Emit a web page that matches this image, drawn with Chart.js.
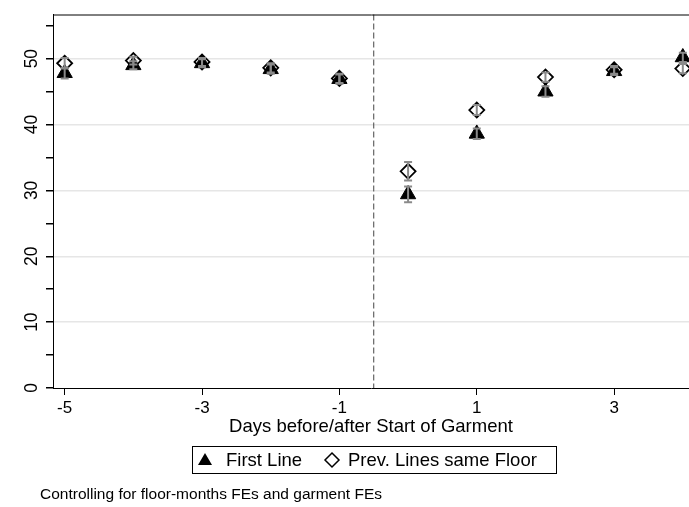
<!DOCTYPE html>
<html><head><meta charset="utf-8">
<script src="https://cdn.jsdelivr.net/npm/chart.js@4/dist/chart.umd.min.js"></script>
<style>html,body{margin:0;padding:0;background:#fff}#wrap{width:689px;height:507px;position:relative}</style>
</head><body><div id="wrap"><canvas id="c" width="689" height="507"></canvas></div>
<script>
// ---- data ----
const days = [-5, -4, -3, -2, -1, 0, 1, 2, 3, 4];
const firstLine = [47.8, 49.0, 49.3, 48.4, 46.9, 29.4, 38.6, 45.0, 48.1, 50.2];
const firstLineErr = [0.8, 0.6, 0.6, 0.7, 0.7, 1.2, 0.8, 0.8, 0.6, 0.7];
const prevLines = [49.3, 49.7, 49.5, 48.6, 47.0, 32.9, 42.2, 47.2, 48.3, 48.5];
const prevLinesErr = [0.8, 0.6, 0.6, 0.7, 0.7, 1.4, 0.75, 0.7, 0.6, 0.7];
const xTicks = [-5, -3, -1, 1, 3];
const yTicks = [0, 5, 10, 15, 20, 25, 30, 35, 40, 45, 50, 55];
const yLabelStep = 10;
const xRange = [-5.17, 4.09];
const yRange = [0, 56.7];
const cutoff = -0.5;
const seriesNames = ['First Line', 'Prev. Lines same Floor'];
const xTitle = 'Days before/after Start of Garment';
const note = 'Controlling for floor-months FEs and garment FEs';

const FONT = "'Liberation Sans', Arial, sans-serif";

const toPts = (ys) => days.map((d, i) => ({x: d, y: ys[i]}));

const frame = {
  id: 'frame',
  beforeDatasetsDraw(chart) {
    const {ctx, chartArea: a, scales: {x}} = chart;
    ctx.save();
    // dashed cutoff line
    const px = x.getPixelForValue(cutoff);
    ctx.strokeStyle = '#444';
    ctx.lineWidth = 1;
    ctx.setLineDash([6, 3]);
    ctx.beginPath(); ctx.moveTo(px, a.top); ctx.lineTo(px, a.bottom); ctx.stroke();
    ctx.setLineDash([]);
    // top border of plot region
    ctx.strokeStyle = '#000';
    ctx.beginPath();
    ctx.moveTo(a.left, a.top + 0.5); ctx.lineTo(a.right + 2, a.top + 0.5);
    ctx.stroke();
    ctx.restore();
  },
  afterDatasetsDraw(chart) {
    const {ctx, scales: {x, y}} = chart;
    const errs = [firstLineErr, prevLinesErr];
    ctx.save();
    ctx.strokeStyle = '#8a8a8a';
    ctx.lineWidth = 2;
    chart.data.datasets.forEach((ds, k) => {
      ds.data.forEach((p, i) => {
        const px = x.getPixelForValue(p.x);
        const lo = y.getPixelForValue(p.y - errs[k][i]);
        const hi = y.getPixelForValue(p.y + errs[k][i]);
        ctx.beginPath();
        ctx.moveTo(px, lo); ctx.lineTo(px, hi);
        ctx.moveTo(px - 4, lo); ctx.lineTo(px + 4, lo);
        ctx.moveTo(px - 4, hi); ctx.lineTo(px + 4, hi);
        ctx.stroke();
      });
    });
    ctx.restore();
  },
  afterDraw(chart) {
    const {ctx} = chart;
    ctx.save();
    // legend box
    ctx.strokeStyle = '#000';
    ctx.lineWidth = 1;
    ctx.strokeRect(192.5, 446.5, 364, 27);
    const cy = 460;
    // triangle marker
    ctx.fillStyle = '#000';
    ctx.beginPath();
    ctx.moveTo(205, cy - 7); ctx.lineTo(212, cy + 5); ctx.lineTo(198, cy + 5); ctx.closePath();
    ctx.fill();
    // diamond marker
    ctx.lineWidth = 1.5;
    ctx.beginPath();
    ctx.moveTo(332, cy - 7); ctx.lineTo(339, cy); ctx.lineTo(332, cy + 7); ctx.lineTo(325, cy); ctx.closePath();
    ctx.stroke();
    ctx.font = "18.5px " + FONT;
    ctx.textBaseline = 'middle';
    ctx.textAlign = 'left';
    ctx.fillText(seriesNames[0], 226, cy + 1);
    ctx.fillText(seriesNames[1], 348, cy + 1);
    ctx.font = "15.5px " + FONT;
    ctx.fillText(note, 40, 495);
    ctx.restore();
  }
};

new Chart(document.getElementById('c'), {
  type: 'scatter',
  data: {
    datasets: [
      {label: seriesNames[0], data: toPts(firstLine), pointStyle: 'triangle', pointRadius: 8.8,
       backgroundColor: '#000', borderColor: '#000', borderWidth: 1},
      {label: seriesNames[1], data: toPts(prevLines), pointStyle: 'rectRot', pointRadius: 7.5,
       backgroundColor: 'rgba(0,0,0,0)', borderColor: '#000', borderWidth: 1.8}
    ]
  },
  options: {
    responsive: false, animation: false, devicePixelRatio: 1,
    layout: {autoPadding: false, padding: {top: 14, right: 0, left: 0, bottom: 0}},
    plugins: {legend: {display: false}, tooltip: {enabled: false}},
    clip: false,
    scales: {
      x: {
        type: 'linear', min: xRange[0], max: xRange[1],
        afterBuildTicks: (s) => { s.ticks = xTicks.map(v => ({value: v})); },
        afterFit: (s) => { s.height = 119; },
        grid: {drawOnChartArea: false, tickLength: 7, tickColor: '#000', color: '#000'},
        border: {color: '#000', width: 1},
        ticks: {color: '#000', font: {size: 17, family: FONT}, padding: 3, maxRotation: 0},
        title: {display: true, text: xTitle, color: '#000', font: {size: 18.5, family: FONT},
                padding: {top: 0, bottom: 69}}
      },
      y: {
        type: 'linear', min: yRange[0], max: yRange[1],
        afterBuildTicks: (s) => { s.ticks = yTicks.map(v => ({value: v})); },
        afterFit: (s) => { s.width = 53; },
        grid: {
          tickLength: 7, tickColor: '#000',
          color: (c) => (c.tick && c.tick.value % yLabelStep === 0 && c.tick.value > 0) ? '#e6e6e6' : 'rgba(0,0,0,0)',
          lineWidth: 1.5
        },
        border: {color: '#000', width: 1},
        ticks: {
          color: '#000', font: {size: 17.5, family: FONT}, padding: 4,
          minRotation: 90, maxRotation: 90, crossAlign: 'center',
          callback: (v) => (v % yLabelStep === 0 ? String(v) : '')
        }
      }
    }
  },
  plugins: [frame]
});
</script></body></html>
